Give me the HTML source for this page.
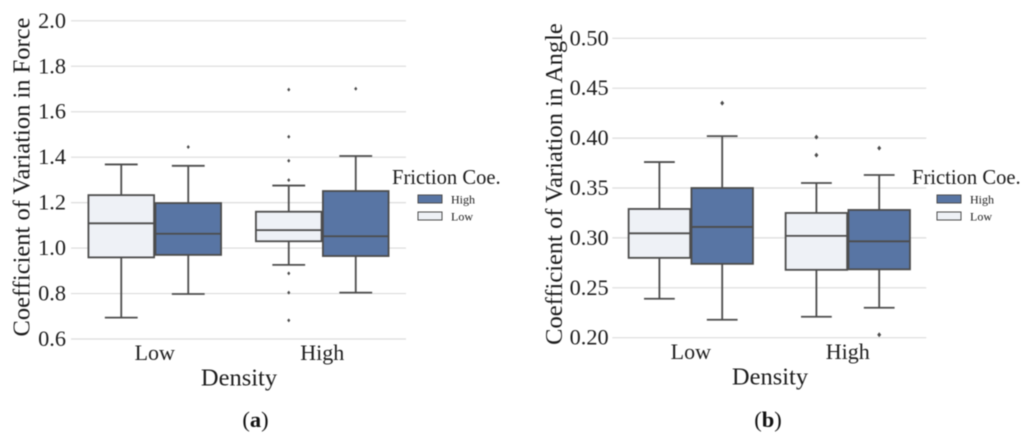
<!DOCTYPE html>
<html lang="en">
<head>
<meta charset="utf-8">
<title>Coefficient of Variation Box Plots</title>
<style>
  html, body { margin: 0; padding: 0; background: #fff; }
  body { width: 1024px; height: 440px; overflow: hidden; }
  svg { display: block; filter: blur(0.42px); font-family: "Liberation Serif", "Times New Roman", serif; }
</style>
</head>
<body>
<svg id="chart" xmlns="http://www.w3.org/2000/svg" width="1024" height="440" viewBox="0 0 1024 440"></svg>
<script>
// Shared labels
const categories = ['Low', 'High'];
const hues = ['Low', 'High'];
const legendEntries = ['High', 'Low'];

// Panel (a): [lower whisker, Q1, median, Q3, upper whisker]
const forceTicks = [0.6, 0.8, 1.0, 1.2, 1.4, 1.6, 1.8, 2.0];
const forceTickLabels = ['0.6', '0.8', '1.0', '1.2', '1.4', '1.6', '1.8', '2.0'];
const forceLowDensityLowFriction = [0.694, 0.959, 1.109, 1.233, 1.368];
const forceLowDensityHighFriction = [0.798, 0.970, 1.063, 1.198, 1.362];
const forceHighDensityLowFriction = [0.926, 1.030, 1.079, 1.160, 1.275];
const forceHighDensityHighFriction = [0.804, 0.965, 1.052, 1.251, 1.405];
const forceLowDensityLowOutliers = [];
const forceLowDensityHighOutliers = [1.445];
const forceHighDensityLowOutliers = [1.697, 1.490, 1.384, 1.299, 0.889, 0.804, 0.682];
const forceHighDensityHighOutliers = [1.701];

// Panel (b): [lower whisker, Q1, median, Q3, upper whisker]
const angleTicks = [0.20, 0.25, 0.30, 0.35, 0.40, 0.45, 0.50];
const angleTickLabels = ['0.20', '0.25', '0.30', '0.35', '0.40', '0.45', '0.50'];
const angleLowDensityLowFriction = [0.239, 0.280, 0.3046, 0.329, 0.376];
const angleLowDensityHighFriction = [0.218, 0.274, 0.311, 0.350, 0.402];
const angleHighDensityLowFriction = [0.221, 0.268, 0.302, 0.325, 0.355];
const angleHighDensityHighFriction = [0.230, 0.2685, 0.2966, 0.328, 0.363];
const angleLowDensityLowOutliers = [];
const angleLowDensityHighOutliers = [0.435];
const angleHighDensityLowOutliers = [0.401, 0.383];
const angleHighDensityHighOutliers = [0.390, 0.203];

const NS = 'http://www.w3.org/2000/svg';
const svg = document.getElementById('chart');
const INK = '#4c4c4c';
const TEXT = '#1c1c1c';
const GRID = '#dcdcdc';
const DARK = '#5875a4';
const LIGHT = '#eef1f6';

function make(parent, tag, attrs, text) {
  const el = document.createElementNS(NS, tag);
  for (const k in attrs) el.setAttribute(k, attrs[k]);
  if (text !== undefined) el.textContent = text;
  parent.appendChild(el);
  return el;
}

function drawPanel(p) {
  const root = make(svg, 'g', {});
  
  

  const yScale = v => p.yBottom - (v - p.yMin) / (p.yMax - p.yMin) * (p.yBottom - p.yTop);
  const step = (p.xRight - p.xLeft) / categories.length;
  const xCenter = i => p.xLeft + (i + 0.5) * step;
  const xHue = (i, h) => xCenter(i) + (h === 0 ? -0.2 : 0.2) * step;
  const boxW = step * 0.392;

  p.ticks.forEach((t, i) => {
    const y = yScale(t);
    const grid = make(root, 'line', { x1: p.xLeft, x2: p.xRight, y1: y, y2: y, stroke: GRID, 'stroke-width': 1.2 });
    
    
    const label = make(root, 'text', { x: p.tickRight, y: y + 7, 'text-anchor': 'end', 'font-size': 22.3, fill: TEXT }, p.tickLabels[i]);
    
    
  });

  p.series.forEach((cat, i) => {
    cat.forEach((s, h) => {
      const x = xHue(i, h);
      const [lo, q1, med, q3, hi] = s.values;
      const g = make(root, 'g', {});
      
      
      const stroke = { stroke: INK, 'stroke-width': 1.8 };
      make(g, 'line', Object.assign({ x1: x, x2: x, y1: yScale(q3), y2: yScale(hi) }, stroke));
      make(g, 'line', Object.assign({ x1: x, x2: x, y1: yScale(q1), y2: yScale(lo) }, stroke));
      make(g, 'line', Object.assign({ x1: x - boxW / 4, x2: x + boxW / 4, y1: yScale(hi), y2: yScale(hi) }, stroke));
      make(g, 'line', Object.assign({ x1: x - boxW / 4, x2: x + boxW / 4, y1: yScale(lo), y2: yScale(lo) }, stroke));
      make(g, 'rect', Object.assign({
        x: x - boxW / 2, y: yScale(q3), width: boxW, height: yScale(q1) - yScale(q3),
        fill: h === 0 ? LIGHT : DARK
      }, stroke));
      make(g, 'line', Object.assign({ x1: x - boxW / 2, x2: x + boxW / 2, y1: yScale(med), y2: yScale(med) }, stroke));
      s.outliers.forEach(v => {
        const cy = yScale(v);
        const r = p.outlierSize;
        make(g, 'polygon', {
          points: [[x, cy - r * 1.25], [x + r, cy], [x, cy + r * 1.25], [x - r, cy]].map(a => a.join(',')).join(' '),
          fill: INK
        });
      });
    });
    const cl = make(root, 'text', { x: xCenter(i), y: p.catBaseline, 'text-anchor': 'middle', 'font-size': 22, fill: TEXT }, categories[i]);
    
    
  });

  const yt = make(root, 'text', {
    x: 0, y: 0, 'text-anchor': 'middle', 'font-size': 24.5, fill: TEXT,
    transform: 'translate(' + p.yTitleX + ',' + p.yTitleY + ') rotate(-90)'
  }, p.yTitle);
  
  

  const xt = make(root, 'text', { x: p.xTitleX, y: p.xTitleY, 'text-anchor': 'middle', 'font-size': 24.5, fill: TEXT }, 'Density');
  
  

  const lg = make(root, 'g', {});
  
  
  const lt = make(lg, 'text', { x: p.legendTitleX, y: 184, 'font-size': 20.6, fill: TEXT }, 'Friction Coe.');
  
  
  legendEntries.forEach((name, i) => {
    const y = 195 + i * 17;
    const entry = make(lg, 'g', {});
    
    
    make(entry, 'rect', {
      x: p.legendSwatchX, y: y, width: 24, height: 8,
      fill: name === 'High' ? DARK : LIGHT, stroke: INK, 'stroke-width': 1
    });
    make(entry, 'text', { x: p.legendSwatchX + 33, y: y + 8.5, 'font-size': 12, fill: TEXT }, name);
  });

  const cap = make(root, 'text', { x: p.captionX, y: 427, 'text-anchor': 'middle', 'font-size': 22.5, fill: '#111' });
  
  
  make(cap, 'tspan', {}, '(');
  make(cap, 'tspan', { 'font-weight': 'bold' }, p.captionLetter);
  make(cap, 'tspan', {}, ')');
}

drawPanel({
  id: 'force', yMin: 0.6, yMax: 2.0, yTop: 20.8, yBottom: 339, xLeft: 71, xRight: 406,
  ticks: forceTicks, tickLabels: forceTickLabels, tickRight: 66, catBaseline: 360,
  outlierSize: 1.6, yTitle: 'Coefficient of Variation in Force', yTitleX: 29.5, yTitleY: 177,
  xTitleX: 239, xTitleY: 385.5, legendTitleX: 392, legendSwatchX: 418, captionX: 255.5, captionLetter: 'a',
  series: [
    [{ values: forceLowDensityLowFriction, outliers: forceLowDensityLowOutliers },
     { values: forceLowDensityHighFriction, outliers: forceLowDensityHighOutliers }],
    [{ values: forceHighDensityLowFriction, outliers: forceHighDensityLowOutliers },
     { values: forceHighDensityHighFriction, outliers: forceHighDensityHighOutliers }]
  ]
});

drawPanel({
  id: 'angle', yMin: 0.20, yMax: 0.50, yTop: 38.3, yBottom: 337.7, xLeft: 612.3, xRight: 926.3,
  ticks: angleTicks, tickLabels: angleTickLabels, tickRight: 608.7, catBaseline: 359,
  outlierSize: 2, yTitle: 'Coefficient of Variation in Angle', yTitleX: 562, yTitleY: 184,
  xTitleX: 770, xTitleY: 384.5, legendTitleX: 912, legendSwatchX: 937, captionX: 768, captionLetter: 'b',
  series: [
    [{ values: angleLowDensityLowFriction, outliers: angleLowDensityLowOutliers },
     { values: angleLowDensityHighFriction, outliers: angleLowDensityHighOutliers }],
    [{ values: angleHighDensityLowFriction, outliers: angleHighDensityLowOutliers },
     { values: angleHighDensityHighFriction, outliers: angleHighDensityHighOutliers }]
  ]
});
</script>
</body>
</html>
